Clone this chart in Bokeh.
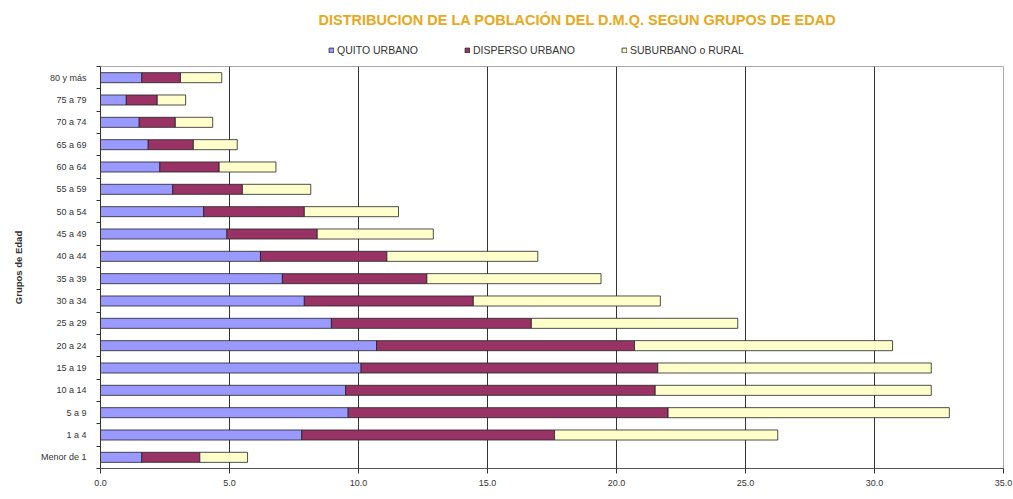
from bokeh.plotting import figure
from bokeh.layouts import column
from bokeh.models import (ColumnDataSource, FixedTicker, Legend, LegendItem,
                          NumeralTickFormatter, Range1d, Label)
from bokeh.embed import file_html
from bokeh.resources import INLINE

# Age groups, bottom to top
grupos = ["Menor de 1", "1 a 4", "5 a 9", "10 a 14", "15 a 19", "20 a 24",
          "25 a 29", "30 a 34", "35 a 39", "40 a 44", "45 a 49", "50 a 54",
          "55 a 59", "60 a 64", "65 a 69", "70 a 74", "75 a 79", "80 y más"]

# Percentages by area
quito_urbano = [1.6, 7.8, 9.6, 9.5, 10.1, 10.7, 8.95, 7.9, 7.05, 6.2, 4.9, 4.0,
                2.8, 2.3, 1.85, 1.5, 1.0, 1.6]
disperso_urbano = [2.25, 9.8, 12.4, 12.0, 11.5, 10.0, 7.75, 6.55, 5.6, 4.9, 3.5,
                   3.9, 2.7, 2.3, 1.75, 1.4, 1.2, 1.5]
suburbano_rural = [1.85, 8.65, 10.9, 10.7, 10.6, 10.0, 8.0, 7.25, 6.75, 5.85,
                   4.5, 3.65, 2.65, 2.2, 1.7, 1.45, 1.1, 1.6]

series = ["QUITO URBANO", "DISPERSO URBANO", "SUBURBANO o RURAL"]
colores = ["#9999FF", "#993366", "#FFFFCC"]
x_ticks = [0, 5, 10, 15, 20, 25, 30, 35]
titulo = "DISTRIBUCION DE LA POBLACIÓN DEL D.M.Q. SEGUN GRUPOS DE EDAD"

W = 1013
HEAD_H = 64
MAIN_H = 499 - HEAD_H
BORDER_L, BORDER_R = 100, 10
FRAME_W = W - BORDER_L - BORDER_R

centros = [i + 0.5 for i in range(len(grupos))]
limites = list(range(len(grupos) + 1))

# ---- header strip: title and legend, in pixel coordinates of the plot area ----
head = figure(width=W, height=HEAD_H, output_backend="svg", toolbar_location=None,
              x_range=Range1d(0, FRAME_W), y_range=Range1d(0, HEAD_H),
              min_border=0, min_border_left=BORDER_L, min_border_right=BORDER_R,
              outline_line_color=None,
              background_fill_color="white", border_fill_color="white")
head.axis.visible = False
head.grid.visible = False

head.add_layout(Label(x=218, y=HEAD_H - 19, text=titulo, text_baseline="middle",
                      text_font="Liberation Sans", text_font_size="14.5px",
                      text_font_style="bold", text_color="#E8A820"))

# legend swatches only (no visible data)
swatch_src = ColumnDataSource(dict(x=[float("nan")], y=[float("nan")]))
swatches = [head.rect(x="x", y="y", width=1, height=1, source=swatch_src,
                      fill_color=c, line_color="#222222", line_width=0.8)
            for c in colores]
leg = Legend(items=[LegendItem(label=n, renderers=[r]) for n, r in zip(series, swatches)],
             orientation="horizontal", location=(228, 8),
             label_text_font="Liberation Sans", label_text_font_size="10.5px",
             label_text_color="#333333",
             glyph_width=6, glyph_height=6, spacing=46, label_standoff=3,
             padding=0, margin=0, border_line_color=None,
             background_fill_alpha=0)
head.add_layout(leg)

# ---- main chart ----
src = ColumnDataSource(dict(y=centros, q=quito_urbano, d=disperso_urbano,
                            s=suburbano_rural))

p = figure(width=W, height=MAIN_H, output_backend="svg", toolbar_location=None,
           x_range=Range1d(0, 35), y_range=Range1d(0, len(grupos)),
           min_border_left=BORDER_L, min_border_right=BORDER_R, min_border_top=2,
           min_border_bottom=31, background_fill_color="white",
           border_fill_color="white")

p.hbar_stack(["q", "d", "s"], y="y", height=0.45, color=colores,
             line_color="#222222", line_width=0.8, source=src)

# X axis
p.xaxis.ticker = FixedTicker(ticks=x_ticks)
p.xaxis.formatter = NumeralTickFormatter(format="0.0")
p.xaxis.major_label_text_font = "Liberation Sans"
p.xaxis.major_label_text_font_size = "9px"
p.xaxis.major_label_text_color = "#333333"
p.xaxis.major_tick_out = 5
p.xaxis.major_tick_in = 0
p.xaxis.minor_tick_out = 0
p.xaxis.minor_tick_in = 0
p.xaxis.axis_line_color = "#555555"
p.xaxis.major_tick_line_color = "#333333"
p.xaxis.major_label_standoff = 6

# Y axis: labels at bar centres, ticks at group boundaries
p.yaxis.ticker = FixedTicker(ticks=centros, minor_ticks=limites)
p.yaxis.major_label_overrides = {c: g for c, g in zip(centros, grupos)}
p.yaxis.major_label_text_font = "Liberation Sans"
p.yaxis.major_label_text_font_size = "9px"
p.yaxis.major_label_text_color = "#333333"
p.yaxis.major_tick_out = 0
p.yaxis.major_tick_in = 0
p.yaxis.minor_tick_out = 4
p.yaxis.minor_tick_in = 0
p.yaxis.minor_tick_line_color = "#333333"
p.yaxis.axis_line_color = "#333333"
p.yaxis.major_label_standoff = 10
p.yaxis.axis_label = "Grupos de Edad"
p.yaxis.axis_label_text_font = "Liberation Sans"
p.yaxis.axis_label_text_font_size = "9.5px"
p.yaxis.axis_label_text_font_style = "bold"
p.yaxis.axis_label_text_color = "#333333"
p.yaxis.axis_label_standoff = 14

# Grid
p.xgrid.ticker = FixedTicker(ticks=x_ticks[1:-1])
p.xgrid.grid_line_color = "#333333"
p.xgrid.grid_line_width = 1
p.ygrid.grid_line_color = None
p.outline_line_color = "#AAAAAA"

layout = column(head, p, spacing=0)
open("out.html", "w").write(file_html(layout, INLINE))
